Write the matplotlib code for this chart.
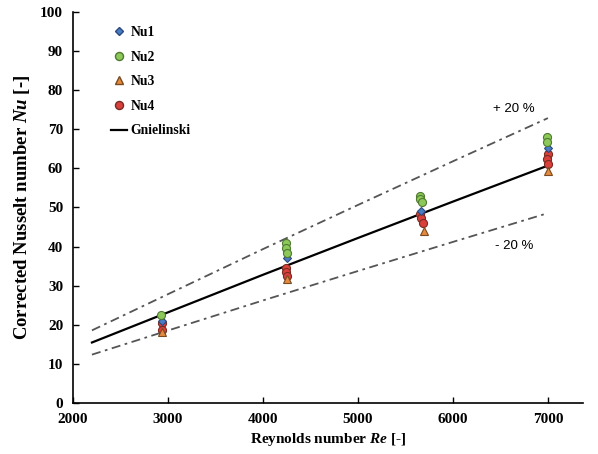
import numpy as np
import matplotlib
matplotlib.use("Agg")
import matplotlib.pyplot as plt
from matplotlib.lines import Line2D

plt.rcParams['font.family'] = ['Liberation Serif', 'DejaVu Serif']
plt.rcParams['font.weight'] = 'bold'
plt.rcParams['mathtext.fontset'] = 'custom'
plt.rcParams['mathtext.it'] = 'Liberation Serif:italic:bold'
plt.rcParams['mathtext.rm'] = 'Liberation Serif:bold'

# Gnielinski correlation curve
reGn = [2200, 3000, 4000, 5000, 6000, 7000]
nuGn = [15.5, 23.2, 32.8, 42.2, 51.5, 60.7]

# Measured data
reNu1 = [2935, 4250, 5660, 7000]
nu1 = [21.0, 37.2, 49.0, 65.2]

reNu2 = [2930, 4245, 4245, 4250, 5650, 5655, 5670, 6995, 6990]
nu2 = [22.6, 40.8, 39.7, 38.3, 53.0, 52.2, 51.5, 68.0, 66.7]

reNu3 = [2935, 4255, 5700, 7000]
nu3 = [18.3, 31.6, 44.0, 59.3]

reNu4 = [2935, 2935, 4245, 4245, 4250, 5650, 5660, 5680, 7000, 6990, 7000]
nu4 = [20.5, 18.8, 34.6, 33.4, 32.5, 48.4, 47.3, 46.0, 63.6, 62.4, 61.2]

band = 0.20  # +/- 20 % deviation

fig = plt.figure(figsize=(5.98, 4.54), dpi=100)
ax = fig.add_axes([0.122, 0.112, 0.853, 0.862])

reGn = np.array(reGn)
nuGn = np.array(nuGn)
dashdot = (0, (5, 2.5, 1.5, 2.5))
ax.plot(reGn, nuGn * (1 + band), color="#555555", lw=1.3, ls=dashdot)
ax.plot(reGn, nuGn * (1 - band), color="#555555", lw=1.3, ls=dashdot)
ax.plot(reGn, nuGn, color="black", lw=1.6, zorder=2)

ms = 5.8
ax.plot(reNu4, nu4, "o", ms=ms, mfc="#d9403c", mec="#7a2a20", mew=0.8, ls="none", zorder=3)
ax.plot(reNu3, nu3, "^", ms=ms, mfc="#e58a3e", mec="#7a4a20", mew=0.8, ls="none", zorder=3)
ax.plot(reNu1, nu1, "D", ms=4.5, mfc="#4a7cc4", mec="#2a4a80", mew=0.8, ls="none", zorder=3)
ax.plot(reNu2, nu2, "o", ms=ms, mfc="#8cc85a", mec="#4f7a30", mew=0.8, ls="none", zorder=4)

ax.text(6640, 74.5, "+ 20 %", family="Liberation Sans", weight="normal", fontsize=9.5, ha="center")
ax.text(6640, 39.5, "- 20 %", family="Liberation Sans", weight="normal", fontsize=9.5, ha="center")

handles = [
    Line2D([], [], marker="D", ms=4.5, mfc="#4a7cc4", mec="#2a4a80", ls="none"),
    Line2D([], [], marker="o", ms=ms, mfc="#8cc85a", mec="#4f7a30", ls="none"),
    Line2D([], [], marker="^", ms=ms, mfc="#e58a3e", mec="#7a4a20", ls="none"),
    Line2D([], [], marker="o", ms=ms, mfc="#d9403c", mec="#7a2a20", ls="none"),
    Line2D([], [], color="black", lw=1.6),
]
leg = ax.legend(handles, ["Nu1", "Nu2", "Nu3", "Nu4", "Gnielinski"], loc="upper left",
                bbox_to_anchor=(0.05, 0.995), frameon=False, fontsize=9.8,
                labelspacing=0.85, handlelength=1.2, handletextpad=0.25)

ax.set_xlim(2000, 7370)
ax.set_ylim(0, 100)
ax.set_xticks(np.arange(2000, 7001, 1000))
ax.set_yticks(np.arange(0, 101, 10))
ax.tick_params(direction="in", length=4, width=1, labelsize=11)
ax.tick_params(axis="x", pad=7)
ax.tick_params(axis="y", pad=7)
for lbl in ax.get_xticklabels() + ax.get_yticklabels():
    lbl.set_fontweight("bold")
ax.spines["top"].set_visible(False)
ax.spines["right"].set_visible(False)
ax.spines["left"].set_linewidth(1.2)
ax.spines["bottom"].set_linewidth(1.2)

ax.set_xlabel("Reynolds number $Re$ [-]", fontsize=11, fontweight="bold", labelpad=4)
ax.set_ylabel("Corrected Nusselt number $Nu$ [-]", fontsize=13.5, fontweight="bold", labelpad=6)

fig.savefig("out.png", dpi=100)
